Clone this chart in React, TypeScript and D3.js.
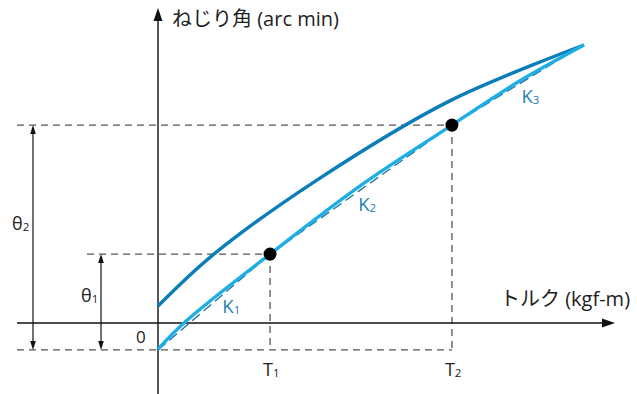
import React from "react";
import * as d3 from "d3";

// torque in arbitrary units (0..100), twist angle in arbitrary units
const lowerTorque = [0, 6.6, 26.3, 47.7, 69.0, 84.5, 100];
const lowerAngle = [-9.4, 0.7, 24.8, 49.6, 71.2, 86.7, 100];
const upperTorque = [0, 12.9, 37.3, 68.5, 100];
const upperAngle = [6.1, 24.5, 51.4, 79.9, 100];
const kTorque = [0, 26.3, 69.0, 98.6];
const kAngle = [-9.7, 24.8, 71.2, 98.9];
const pointTorque = [26.3, 69.0];
const pointAngle = [24.8, 71.2];
const tLabels = ["T", "T"];
const tSubs = ["1", "2"];
const kLabels = [
  { sub: "1", t: 15.1, a: 3.5 },
  { sub: "2", t: 47.0, a: 40.3 },
  { sub: "3", t: 85.3, a: 79.3 },
];

const W = 637;
const H = 394;
const FONT = "'Open Sans', 'Noto Sans CJK JP', sans-serif";

export default function App() {
  const x = d3.scaleLinear().domain([0, 100]).range([158, 584]);
  const y = d3.scaleLinear().domain([0, 100]).range([323, 45]);

  const line = d3
    .line<[number, number]>()
    .x((d) => x(d[0]))
    .y((d) => y(d[1]))
    .curve(d3.curveCatmullRom.alpha(0.5));
  const straight = d3
    .line<[number, number]>()
    .x((d) => x(d[0]))
    .y((d) => y(d[1]));

  const lower = lowerTorque.map((t, i) => [t, lowerAngle[i]] as [number, number]);
  const upper = upperTorque.map((t, i) => [t, upperAngle[i]] as [number, number]);
  const kline = kTorque.map((t, i) => [t, kAngle[i]] as [number, number]);

  const x0 = x(0);
  const y0 = y(0);
  const yBase = y(kAngle[0]);
  const xT1 = x(pointTorque[0]);
  const xT2 = x(pointTorque[1]);
  const yA1 = y(pointAngle[0]);
  const yA2 = y(pointAngle[1]);
  const leftX = 17;

  const guide = { stroke: "#555", strokeWidth: 1.3, strokeDasharray: "7,5", fill: "none" };

  const arrowV = (ax: number, top: number, bot: number) => (
    <g>
      <line x1={ax} x2={ax} y1={top + 6} y2={bot - 6} stroke="#111" strokeWidth={1.2} />
      <path d={`M${ax},${top} L${ax - 2.8},${top + 9} L${ax + 2.8},${top + 9} Z`} fill="#111" />
      <path d={`M${ax},${bot} L${ax - 2.8},${bot - 9} L${ax + 2.8},${bot - 9} Z`} fill="#111" />
    </g>
  );

  return (
    <svg
      width={W}
      height={H}
      style={{ position: "absolute", left: 0, top: 0, background: "#fff" }}
      fontFamily={FONT}
    >
      {/* guide lines */}
      <line x1={leftX} x2={xT2} y1={yBase} y2={yBase} {...guide} />
      <line x1={leftX} x2={xT2} y1={yA2} y2={yA2} {...guide} />
      <line x1={87} x2={xT1} y1={yA1} y2={yA1} {...guide} />
      <line x1={xT1} x2={xT1} y1={yA1} y2={yBase} {...guide} />
      <line x1={xT2} x2={xT2} y1={yA2} y2={yBase} {...guide} />

      {/* axes */}
      <line x1={leftX} x2={605} y1={y0} y2={y0} stroke="#111" strokeWidth={1.4} />
      <path d={`M615,${y0} L602,${y0 - 4.5} L602,${y0 + 4.5} Z`} fill="#111" />
      <line x1={x0} x2={x0} y1={H} y2={18} stroke="#111" strokeWidth={1.4} />
      <path d={`M${x0},8 L${x0 - 4.5},21 L${x0 + 4.5},21 Z`} fill="#111" />

      {/* theta arrows */}
      {arrowV(33, yA2, yBase)}
      {arrowV(101, yA1, yBase)}

      {/* curves */}
      <path d={line(upper) || ""} fill="none" stroke="#0b7db8" strokeWidth={3.4} />
      <path d={straight(kline) || ""} fill="none" stroke="#1f6f98" strokeWidth={1.3} strokeDasharray="10,5" />
      <path d={line(lower) || ""} fill="none" stroke="#1eaee6" strokeWidth={3.4} />

      {/* points */}
      {pointTorque.map((t, i) => (
        <circle key={i} cx={x(t)} cy={y(pointAngle[i])} r={6.5} fill="#000" />
      ))}

      {/* axis labels */}
      <text x={172} y={26} fontSize={20} fill="#222">
        ねじり角 (arc min)
      </text>
      <text x={500} y={306} fontSize={20} fill="#222">
        トルク (kgf-m)
      </text>
      <text x={136} y={343} fontSize={17} fill="#222">
        0
      </text>

      {/* T labels */}
      {pointTorque.map((t, i) => (
        <text key={i} x={x(t) - 7} y={376} fontSize={18} fill="#222">
          {tLabels[i]}
          <tspan fontSize={11.5} dy={1}>
            {tSubs[i]}
          </tspan>
        </text>
      ))}

      {/* theta labels */}
      <text x={12} y={230} fontSize={18} fill="#222">
        θ<tspan fontSize={11.5} dy={1}>2</tspan>
      </text>
      <text x={81} y={302} fontSize={18} fill="#222">
        θ<tspan fontSize={11.5} dy={1}>1</tspan>
      </text>

      {/* K labels */}
      {kLabels.map((k, i) => (
        <text key={i} x={x(k.t)} y={y(k.a)} fontSize={18.5} fill="#2580b0">
          K<tspan fontSize={11.5} dy={1}>{k.sub}</tspan>
        </text>
      ))}
    </svg>
  );
}
